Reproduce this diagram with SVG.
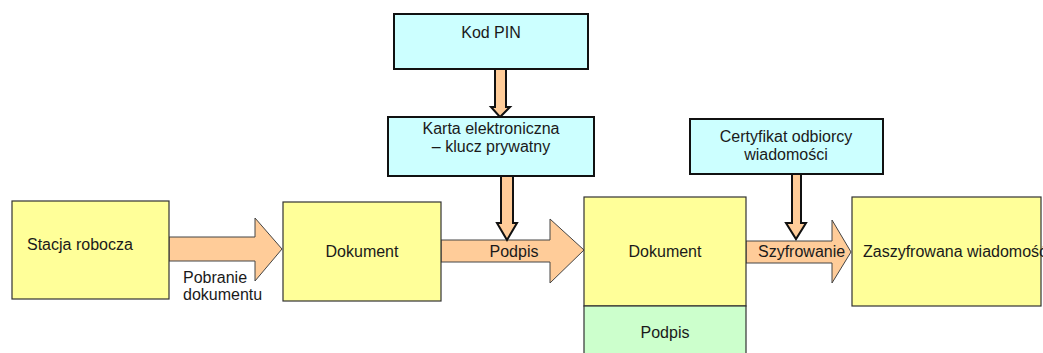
<svg xmlns="http://www.w3.org/2000/svg" width="1043" height="353" viewBox="0 0 1043 353">
<style>
text{font-family:"Liberation Sans",Arial,sans-serif;font-size:16px;fill:#1a1a1a}
.y{fill:#FFFF99;stroke:#333;stroke-width:1.2}
.g{fill:#CCFFCC;stroke:#333;stroke-width:1.2}
.c{fill:#CCFFFF;stroke:#111;stroke-width:2}
.ha{fill:#FFCC99;stroke:#444;stroke-width:1}
.va{fill:#FFCC99;stroke:#111;stroke-width:2}
.m{text-anchor:middle}
</style>
<rect width="1043" height="353" fill="#fff"/>
<g id="connectors">
<polygon class="ha" points="169,237 255,237 255,218 282,249 255,281 255,261 169,261"/>
<polygon class="ha" points="441,240 550,240 550,219 584,250 550,283 550,262 441,262"/>
<polygon class="ha" points="746,241 832,241 832,220 851,252 832,283 832,263 746,263"/>
<polygon class="va" points="495,69 506,69 506,107 510,107 500,117 491,107 495,107"/>
<polygon class="va" points="501,176 513,176 513,223 517,223 507,240 497,223 501,223"/>
<polygon class="va" points="792,174 801,174 801,223 806,223 796,239 786,223 792,223"/>
</g>
<text x="183" y="283">Pobranie</text>
<text x="183" y="300">dokumentu</text>
<text x="514" y="257" class="m">Podpis</text>
<text x="758" y="257">Szyfrowanie</text>
<g id="stacja"><rect class="y" x="12" y="201" width="157" height="98"/><text x="27" y="250">Stacja robocza</text></g>
<g id="dokument1"><rect class="y" x="283" y="202" width="158" height="99"/><text x="362" y="257" class="m">Dokument</text></g>
<g id="dokument2"><rect class="y" x="584" y="197" width="162" height="109"/><text x="665" y="257" class="m">Dokument</text></g>
<g id="podpis2"><rect class="g" x="584" y="306" width="162" height="60"/><text x="665" y="338" class="m">Podpis</text></g>
<g id="kodpin"><rect class="c" x="394" y="14" width="194" height="55"/><text x="491" y="38" class="m">Kod PIN</text></g>
<g id="karta"><rect class="c" x="388" y="117" width="206" height="59"/><text x="491" y="134" class="m">Karta elektroniczna</text><text x="491" y="152" class="m">– klucz prywatny</text></g>
<g id="certyfikat"><rect class="c" x="690" y="119" width="193" height="55"/><text x="786" y="142" class="m">Certyfikat odbiorcy</text><text x="786" y="160" class="m">wiadomości</text></g>
<g id="zaszyfrowana"><rect class="y" x="852" y="197" width="189" height="109"/><text x="863" y="257">Zaszyfrowana wiadomość</text></g>
</svg>
